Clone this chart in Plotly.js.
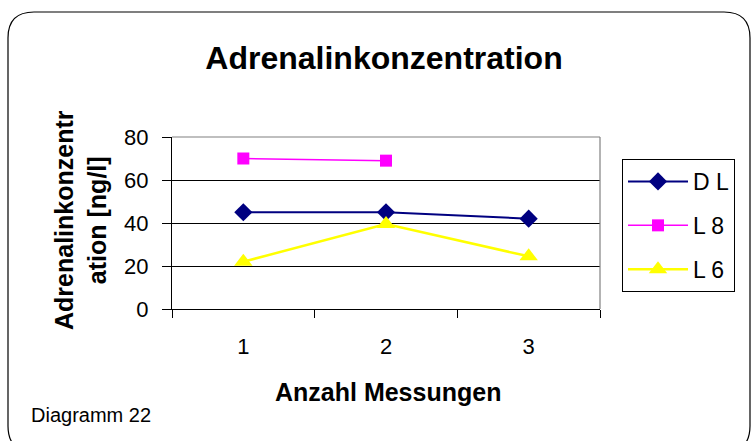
<!DOCTYPE html>
<html>
<head>
<meta charset="utf-8">
<script src="https://cdn.plot.ly/plotly-3.0.1.min.js"></script>
<style>
html,body{margin:0;padding:0;background:#fff;}
#chart{width:754px;height:441px;}
</style>
</head>
<body>
<div id="chart"></div>
<script>
const categories = ['1', '2', '3'];
const seriesNames = ['D L', 'L 8', 'L 6'];
const valuesDL = [45, 45, 42];
const valuesL8 = [70, 69, null];
const valuesL6 = [22, 39.5, 24.5];
const yTicks = [0, 20, 40, 60, 80];

const FONT = 'Liberation Sans, Arial, sans-serif';

const traces = [
  {x: categories, y: valuesDL, name: seriesNames[0], legendgroup: 'a', mode: 'lines+markers',
   line: {color: '#000080', width: 2}, marker: {symbol: 'diamond', size: 14, color: '#000080'}},
  {x: categories, y: valuesL8, name: seriesNames[1], legendgroup: 'b', mode: 'lines+markers',
   line: {color: '#FF00FF', width: 1.5}, marker: {symbol: 'square', size: 12, color: '#FF00FF'}},
  {x: categories, y: valuesL6, name: seriesNames[2], legendgroup: 'c', mode: 'lines+markers',
   line: {color: '#FFFF00', width: 2.5}, marker: {symbol: 'triangle-up', size: 16, color: '#FFFF00'}}
];

const L = 172, R = 154, T = 137, B = 132;
const W = 754, H = 441;
const pw = W - L - R, ph = H - T - B;
const px = v => (v - L) / pw;
const py = v => (H - B - v) / ph;

// rounded outer border
const x0 = 8, y0 = 12, x1 = 750, y1 = 452, r = 26;
const border = `M${px(x0)},${py(y0 + r)} Q${px(x0)},${py(y0)} ${px(x0 + r)},${py(y0)} L${px(x1 - r)},${py(y0)} Q${px(x1)},${py(y0)} ${px(x1)},${py(y0 + r)} L${px(x1)},${py(y1 - r)} Q${px(x1)},${py(y1)} ${px(x1 - r)},${py(y1)} L${px(x0 + r)},${py(y1)} Q${px(x0)},${py(y1)} ${px(x0)},${py(y1 - r)} Z`;

const layout = {
  width: W, height: H,
  margin: {l: L, r: R, t: T, b: B, pad: 0},
  paper_bgcolor: '#fff', plot_bgcolor: '#fff',
  font: {family: FONT, color: '#000', size: 22},
  title: {text: '<b>Adrenalinkonzentration</b>', font: {family: FONT, size: 32, color: '#000'},
          x: px(384), xanchor: 'center', xref: 'paper', y: 1 - 58 / H, yanchor: 'middle'},
  showlegend: true,
  legend: {x: px(622), xanchor: 'left', y: py(159), yanchor: 'top',
           bordercolor: '#000', borderwidth: 1, bgcolor: '#fff',
           font: {family: FONT, size: 23, color: '#000'},
           traceorder: 'grouped', tracegroupgap: 11, itemwidth: 60},
  xaxis: {type: 'category', categoryorder: 'array', categoryarray: categories,
          range: [-0.5, 2.5], tickson: 'boundaries', ticks: 'outside', ticklen: 8,
          tickcolor: '#000', showline: true, linecolor: '#000', linewidth: 1,
          showgrid: false, zeroline: false, ticklabelstandoff: 18,
          tickfont: {family: FONT, size: 22, color: '#000'}},
  yaxis: {range: [0, 80], tickvals: yTicks, ticktext: yTicks.map(String),
          ticks: 'outside', ticklen: 9, tickcolor: '#000',
          showline: true, linecolor: '#000', linewidth: 1,
          showgrid: true, gridcolor: '#000', gridwidth: 1, zeroline: false,
          ticklabelstandoff: 9,
          tickfont: {family: FONT, size: 22, color: '#000'}},
  shapes: [
    {type: 'path', xref: 'paper', yref: 'paper', path: border, line: {color: '#000', width: 1.2}, layer: 'below'},
    {type: 'line', xref: 'paper', yref: 'paper', x0: 0, x1: 1, y0: 1, y1: 1, line: {color: '#808080', width: 1.2}},
    {type: 'line', xref: 'paper', yref: 'paper', x0: 1, x1: 1, y0: 0, y1: 1, line: {color: '#808080', width: 1.2}}
  ],
  annotations: [
    {text: '<b>Adrenalinkonzentr<br>ation [ng/l]</b>', xref: 'paper', yref: 'paper',
     x: px(80), y: py(220), xanchor: 'center', yanchor: 'middle', textangle: -90, showarrow: false,
     font: {family: FONT, size: 25, color: '#000'}},
    {text: '<b>Anzahl Messungen</b>', xref: 'paper', yref: 'paper',
     x: px(388), y: py(392), xanchor: 'center', yanchor: 'middle', showarrow: false,
     font: {family: FONT, size: 25, color: '#000'}},
    {text: 'Diagramm 22', xref: 'paper', yref: 'paper', x: px(29), y: py(415),
     xanchor: 'left', yanchor: 'middle', showarrow: false,
     font: {family: FONT, size: 20, color: '#000'}}
  ]
};

Plotly.newPlot('chart', traces, layout, {displayModeBar: false, staticPlot: true});
</script>
</body>
</html>
